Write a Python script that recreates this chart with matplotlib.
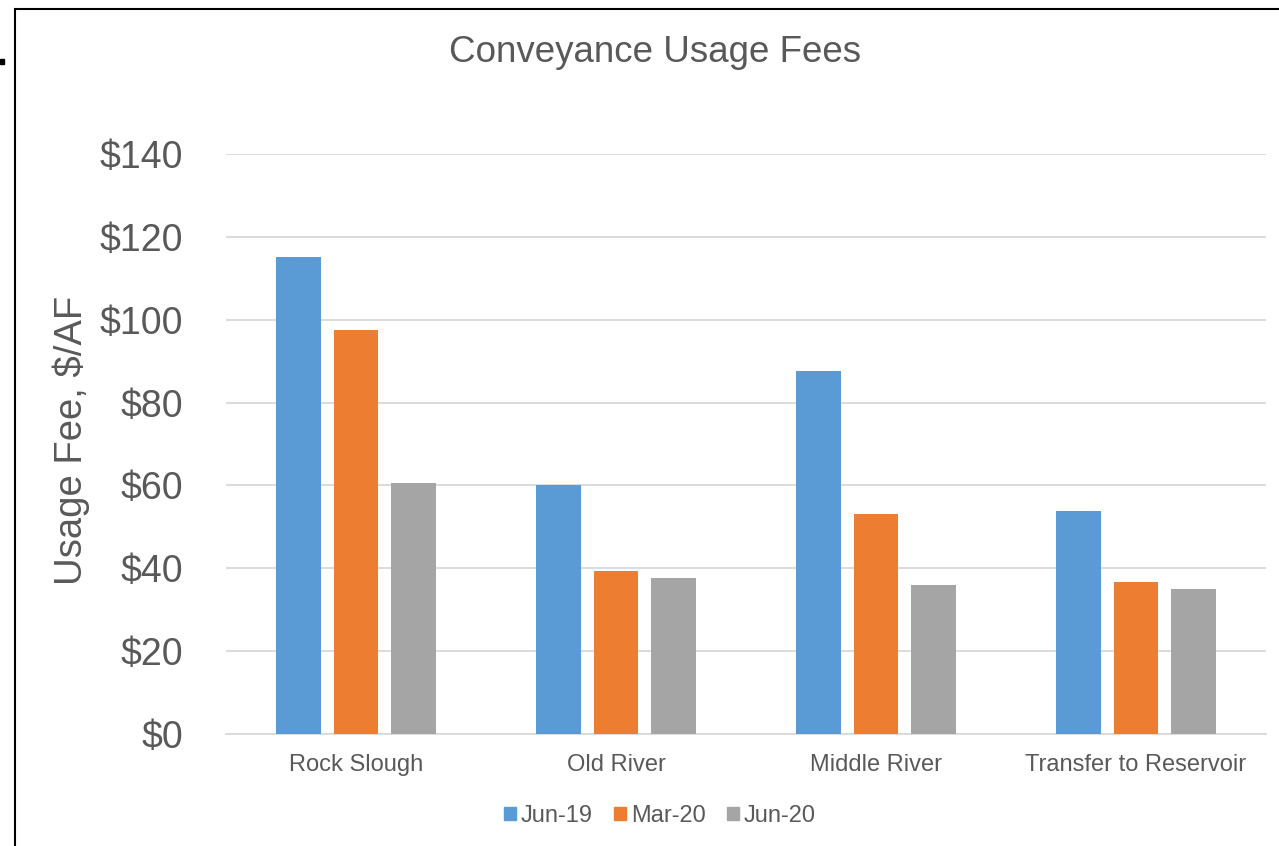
import numpy as np
import matplotlib
matplotlib.use("Agg")
import matplotlib.pyplot as plt
from matplotlib.patches import Rectangle, Patch

# data
sites = ["Rock Slough", "Old River", "Middle River", "Transfer to Reservoir"]
series = ["Jun-19", "Mar-20", "Jun-20"]
fee_jun19 = [115.1, 60.1, 87.6, 53.8]
fee_mar20 = [97.5, 39.3, 53.1, 36.7]
fee_jun20 = [60.6, 37.7, 36.0, 35.0]
yticks = [0, 20, 40, 60, 80, 100, 120, 140]

colors = ["#5B9BD5", "#ED7D31", "#A5A5A5"]
txt = "#595959"
plt.rcParams["font.family"] = ["Liberation Sans", "DejaVu Sans"]

W, H = 1279, 846
fig = plt.figure(figsize=(W / 100, H / 100), dpi=100)
ax = fig.add_axes([226 / W, 1 - 734 / H, 1040 / W, 580 / H])

x = np.arange(len(sites))
bw = 0.173
step = 0.223
for k, vals in enumerate([fee_jun19, fee_mar20, fee_jun20]):
    ax.bar(x + (k - 1) * step, vals, width=bw, color=colors[k],
           label=series[k], zorder=3)

ax.set_xlim(-0.5, len(sites) - 0.5)
ax.set_ylim(0, 140)
ax.set_yticks(yticks)
ax.set_yticklabels([f"${v}" for v in yticks])
ax.set_xticks(x)
ax.set_xticklabels(sites)
ax.yaxis.grid(True, color="#D9D9D9", lw=1.3, zorder=0)
for s in ["top", "right", "left"]:
    ax.spines[s].set_visible(False)
ax.spines["bottom"].set_color("#D9D9D9")
ax.spines["bottom"].set_linewidth(1.3)
ax.tick_params(axis="y", length=0, pad=31, labelsize=27, labelcolor=txt)
ax.tick_params(axis="x", length=0, pad=14.5, labelsize=17, labelcolor=txt)

fig.text(655 / W, 1 - 53 / H, "Conveyance Usage Fees", ha="center",
         va="center", fontsize=26.5, color=txt)
fig.text(71 / W, 1 - 440 / H, "Usage Fee, $/AF", ha="center", va="center",
         rotation=90, fontsize=27.5, color=txt)

handles = [Patch(color=c, label=s) for c, s in zip(colors, series)]
fig.legend(handles=handles, loc="center", bbox_to_anchor=(660 / W, 1 - 816 / H),
           ncol=3, frameon=False, fontsize=17, handlelength=0.5,
           handleheight=0.5, handletextpad=0.22, columnspacing=0.9,
           labelcolor=txt)

# outer chart frame and the stray mark at the left edge
fig.patches.append(Rectangle((15 / W, -0.1), 1.2, 1 - 9 / H + 0.1,
                             transform=fig.transFigure, fill=False,
                             edgecolor="black", lw=1.5))
fig.patches.append(Rectangle((0, 1 - 64 / H), 4 / W, 5 / H,
                             transform=fig.transFigure, color="black"))

fig.savefig("out.png", dpi=100)
